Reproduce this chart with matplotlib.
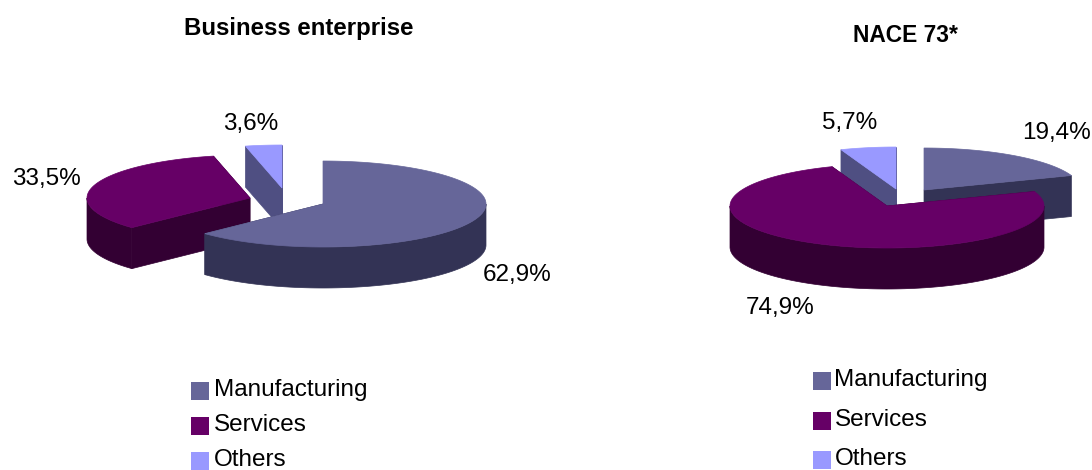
#!/usr/bin/env python3
# -*- coding: utf-8 -*-
import numpy as np
import matplotlib
matplotlib.use('Agg')
from matplotlib import pyplot as plt
from matplotlib.patches import Polygon, Rectangle

categories = ['Manufacturing', 'Services', 'Others']
business_values = [62.9, 33.5, 3.6]
nace_values = [19.4, 74.9, 5.7]
business_title = 'Business enterprise'
nace_title = 'NACE 73*'

plt.rcParams['font.family'] = ['Liberation Sans', 'DejaVu Sans']

TopColors = ['#666699', '#660066', '#9999FF']
WallColors = ['#333355', '#330033', '#4F4F82']


def RimPoints(cx, cy, rx, ry, a0, a1, dy=0):
    # angles run clockwise from 12 o'clock, y axis points down
    t = np.radians(np.linspace(a0, a1, max(int(abs(a1 - a0)) * 2, 2)))
    return np.column_stack((cx + rx * np.sin(t), cy - ry * np.cos(t) + dy))


def DrawSlice(ax, cx, cy, rx, ry, depth, a0, a1, top, wall):
    p0 = RimPoints(cx, cy, rx, ry, a0, a0)[0]
    p1 = RimPoints(cx, cy, rx, ry, a1, a1)[0]
    apex = np.array([cx, cy])
    down = np.array([0, depth])
    # cut faces
    for p in (p0, p1):
        ax.add_patch(Polygon([apex, p, p + down, apex + down], closed=True,
                             fc=wall, ec=wall, lw=0.5))
    # outer wall, only the part of the rim facing the viewer
    lo, hi = max(a0, 90), min(a1, 270)
    if hi > lo:
        upper = RimPoints(cx, cy, rx, ry, lo, hi)
        lower = RimPoints(cx, cy, rx, ry, lo, hi, depth)
        ax.add_patch(Polygon(np.vstack((upper, lower[::-1])), closed=True,
                             fc=wall, ec=wall, lw=0.5))
    rim = RimPoints(cx, cy, rx, ry, a0, a1)
    ax.add_patch(Polygon(np.vstack((apex, rim)), closed=True, fc=top, ec=top, lw=0.5))


def DrawPie(ax, values, centers, rx, ry, depth):
    edges = np.concatenate(([0], np.cumsum(values))) / np.sum(values) * 360
    # back slices first
    for i in np.argsort([c[1] for c in centers]):
        DrawSlice(ax, centers[i][0], centers[i][1], rx, ry, depth,
                  edges[i], edges[i + 1], TopColors[i], WallColors[i])


def FormatValue(v):
    return '{:.1f}%'.format(v).replace('.', ',')


def DrawLegend(ax, x, ys, text_ys, text_dx):
    for name, color, y, ty in zip(categories, TopColors, ys, text_ys):
        ax.add_patch(Rectangle((x, y), 18, 18, fc=color, ec='none'))
        ax.text(x + text_dx, ty, name, fontsize=17.5, va='center', ha='left', color='black')


fig = plt.figure(figsize=(10.92, 4.70), dpi=100)
ax = fig.add_axes([0, 0, 1, 1])
ax.set_xlim(0, 1092)
ax.set_ylim(470, 0)
ax.axis('off')

# left pie
DrawPie(ax, business_values, [(323, 204), (250, 198), (282, 188)], 163, 43, 41)
for v, (x, y) in zip(business_values, [(517, 275), (46, 179), (251, 124)]):
    ax.text(x, y, FormatValue(v), fontsize=17.5, ha='center', va='center')
ax.text(299, 28, business_title, fontsize=17.3, fontweight='bold', ha='center', va='center')
DrawLegend(ax, 191, [382, 417, 452], [390, 425, 460], 22.5)

# right pie
DrawPie(ax, nace_values, [(924, 190), (887, 206), (896, 189)], 157, 42, 41)
for v, (x, y) in zip(nace_values, [(1057, 133), (780, 308), (850, 123)]):
    ax.text(x, y, FormatValue(v), fontsize=17.5, ha='center', va='center')
ax.text(905, 35, nace_title, fontsize=16.4, fontweight='bold', ha='center', va='center')
DrawLegend(ax, 813, [372, 412, 451], [380, 420, 459], 21.5)

fig.savefig('out.png', dpi=100, facecolor='white')
